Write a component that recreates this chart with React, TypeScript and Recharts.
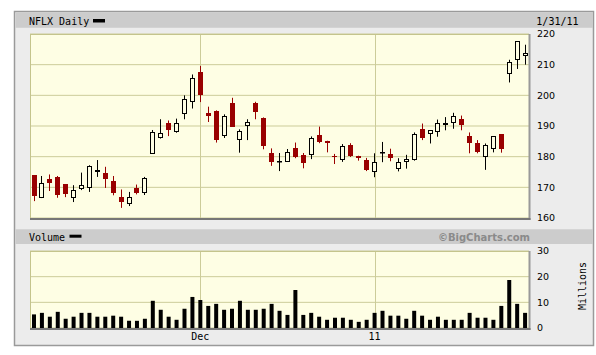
import React from 'react';
import { ComposedChart, Bar, XAxis, YAxis, CartesianGrid } from 'recharts';

const dates = [
  '2010-11-01','2010-11-02','2010-11-03','2010-11-04','2010-11-05','2010-11-08','2010-11-09','2010-11-10','2010-11-11','2010-11-12',
  '2010-11-15','2010-11-16','2010-11-17','2010-11-18','2010-11-19','2010-11-22','2010-11-23','2010-11-24','2010-11-26','2010-11-29',
  '2010-11-30','2010-12-01','2010-12-02','2010-12-03','2010-12-06','2010-12-07','2010-12-08','2010-12-09','2010-12-10','2010-12-13',
  '2010-12-14','2010-12-15','2010-12-16','2010-12-17','2010-12-20','2010-12-21','2010-12-22','2010-12-23','2010-12-27','2010-12-28',
  '2010-12-29','2010-12-30','2010-12-31','2011-01-03','2011-01-04','2011-01-05','2011-01-06','2011-01-07','2011-01-10','2011-01-11',
  '2011-01-12','2011-01-13','2011-01-14','2011-01-18','2011-01-19','2011-01-20','2011-01-21','2011-01-24','2011-01-25','2011-01-26',
  '2011-01-27','2011-01-28','2011-01-31',
];

const opens = [
  173.9,166.6,172.6,173.4,171.0,166.6,169.6,169.9,175.1,174.6,
  172.0,166.7,164.7,169.7,168.3,181.0,186.1,190.9,188.2,194.0,
  197.9,207.7,194.1,194.8,186.8,197.4,185.3,190.1,197.5,192.5,
  181.1,178.3,178.3,182.8,180.6,180.5,187.1,185.2,180.1,178.9,
  183.9,180.1,179.0,175.1,181.2,181.0,176.0,178.4,179.0,189.1,
  187.5,188.1,190.4,191.1,192.4,186.8,184.6,179.8,182.5,187.3,
  207.0,211.4,212.7,
];
const highs = [
  174.0,173.7,174.2,173.7,171.0,170.7,174.8,177.2,178.9,176.7,
  173.7,169.3,168.5,170.9,173.4,188.7,192.2,191.8,192.4,200.0,
  206.8,209.6,196.3,195.1,193.8,199.2,188.9,192.2,197.9,192.8,
  182.7,181.2,182.5,184.6,181.2,186.6,189.8,185.2,180.9,184.1,
  184.4,180.3,179.6,181.1,184.8,182.6,179.5,180.6,187.9,190.8,
  188.6,192.1,192.9,194.3,193.4,187.9,185.4,184.3,186.7,187.3,
  211.6,217.6,216.5,
];
const lows = [
  165.5,166.5,168.8,166.6,166.8,165.2,169.1,168.5,173.4,169.8,
  167.4,163.3,163.9,167.7,167.5,180.9,185.9,186.7,187.8,192.2,
  195.7,197.8,191.3,184.6,186.1,189.7,181.3,185.4,192.2,182.4,
  177.0,175.3,178.3,179.5,176.2,179.2,184.4,181.4,177.6,178.3,
  179.9,178.7,175.3,173.3,178.2,178.5,175.2,176.1,178.7,185.4,
  184.3,186.5,188.6,189.1,188.6,181.1,181.1,175.7,181.4,181.3,
  204.2,208.6,210.0,
];
const closes = [
  167.2,171.5,171.3,167.5,167.9,169.0,170.7,176.8,175.5,172.8,
  168.3,165.2,166.7,168.0,172.9,188.2,187.6,188.7,191.1,198.9,
  205.8,200.1,193.3,185.4,193.4,189.7,188.4,191.2,194.6,183.4,
  178.3,178.6,181.5,179.8,178.0,186.0,184.9,184.3,179.9,183.4,
  180.1,179.5,175.5,178.4,181.5,179.5,178.1,179.3,187.5,186.1,
  188.6,191.1,191.1,193.4,190.2,184.6,181.4,183.9,186.7,182.5,
  210.9,217.6,213.8,
];
const volumes = [
  5.3,5.9,4.4,6.3,3.6,4.4,5.9,5.9,4.4,4.4,
  4.8,4.4,2.8,2.8,3.6,10.6,7.1,4.4,3.2,7.5,
  12.1,10.9,8.6,9.4,7.1,7.5,10.6,7.1,7.1,7.5,
  9.4,6.7,5.1,14.8,5.1,5.9,4.4,3.2,4.0,4.0,
  3.2,2.4,3.2,5.9,6.7,4.8,4.8,3.6,6.7,4.8,
  3.2,4.4,3.2,3.2,3.2,5.9,4.0,4.0,3.2,8.6,
  18.7,9.4,5.9,
];

const monthTickDates = ['2010-12-01', '2011-01-03'];
const monthTickLabels = ['Dec', '11'];
const priceTicks = [160, 170, 180, 190, 200, 210, 220];
const volumeTicks = [0, 10, 20, 30];

const data = dates.map((d, i) => ({
  date: d,
  open: opens[i],
  high: highs[i],
  low: lows[i],
  close: closes[i],
  range: [lows[i], highs[i]],
  volume: volumes[i],
}));

const RED = '#990000';
const GRID = '#cccc99';
const PLOT_BG = '#fefee4';
const MONO = '"DejaVu Sans Mono", monospace';
const SANS = '"DejaVu Sans", sans-serif';

const Candle = (props: any) => {
  const { x, y, width, height, payload } = props;
  if (x == null || y == null) return null;
  const top = Math.min(y, y + height);
  const bottom = Math.max(y, y + height);
  const { open, high, low, close } = payload;
  const span = high - low || 1;
  const py = (v: number) => top + ((high - v) / span) * (bottom - top);
  const cx = Math.round(x + width / 2) + 0.5;
  const up = close >= open;
  const color = up ? '#000' : RED;
  const bt = Math.round(py(Math.max(open, close)));
  let bb = Math.round(py(Math.min(open, close)));
  if (bb - bt < 1) bb = bt + 1;
  return (
    <g>
      <line x1={cx} x2={cx} y1={top} y2={bottom} stroke={color} strokeWidth={1} />
      {up ? (
        <rect x={cx - 2} y={bt + 0.5} width={4} height={Math.max(bb - bt - 1, 0.5)} fill={PLOT_BG} stroke="#000" strokeWidth={1} />
      ) : (
        <rect x={cx - 2.5} y={bt} width={5} height={bb - bt} fill={RED} />
      )}
    </g>
  );
};

const MonthTick = (props: any) => {
  const { x, y, payload } = props;
  const idx = monthTickDates.indexOf(payload.value);
  if (idx < 0) return <g />;
  return (
    <text x={x} y={y} dy="0.35em" textAnchor="middle" fontFamily={MONO} fontSize={10} fill="#000">
      {monthTickLabels[idx]}
    </text>
  );
};

const monthLines = (props: any) => {
  try {
    const xAxis = props && props.xAxis;
    const s = xAxis && xAxis.scale;
    if (!s) return [];
    const bw = typeof s.bandwidth === 'function' ? s.bandwidth() : 0;
    const out: number[] = [];
    monthTickDates.forEach((d) => {
      let v: any;
      if (typeof s === 'function') v = s(d);
      else if (typeof s.map === 'function') v = s.map(d);
      else if (typeof s.apply === 'function') v = s.apply(d);
      if (typeof v === 'number' && isFinite(v)) out.push(Math.round(v + bw / 2) + 0.5);
    });
    return out;
  } catch (e) {
    return [];
  }
};

const tickStyle = { fontSize: 9.5, fill: '#000', fontFamily: SANS };

export default function App() {
  return (
    <div style={{ position: 'absolute', left: 0, top: 0, width: 596, height: 355, background: '#fff' }}>
      <svg width={596} height={355} style={{ position: 'absolute', left: 0, top: 0 }}>
        <rect x={14.5} y={11.5} width={579} height={334} fill="#ececec" stroke="#9a9a9a" strokeWidth={1.5} />
        <rect x={15.5} y={12.3} width={577.5} height={15.5} fill="#cccccc" />
        <rect x={15.5} y={229.3} width={577.5} height={14.7} fill="#cccccc" />
        <text x={29} y={25} fontFamily={MONO} fontSize={10} fill="#000">NFLX Daily</text>
        <rect x={93} y={19} width={12} height={3.5} fill="#000" />
        <text x={578.5} y={25} textAnchor="end" fontFamily={MONO} fontSize={10} fill="#000">1/31/11</text>
        <text x={29} y={240.5} fontFamily={MONO} fontSize={10} fill="#000">Volume</text>
        <rect x={69.5} y={234.7} width={12} height={3} fill="#000" />
        <text x={530} y={240.5} textAnchor="end" fontFamily={SANS} fontWeight="bold" fontSize={10} fill="#8a8a8a">©BigCharts.com</text>
        <text x={582} y={286} textAnchor="middle" dominantBaseline="central" transform="rotate(-90 582 286)" fontFamily={MONO} fontSize={10} fill="#000">Millions</text>
      </svg>

      <div style={{ position: 'absolute', left: 0, top: 0 }}>
        <ComposedChart width={596} height={230} data={data} margin={{ top: 34, right: 27, bottom: 12, left: 30 }}>
          <CartesianGrid stroke={GRID} fill={PLOT_BG} verticalCoordinatesGenerator={monthLines} />
          <XAxis dataKey="date" hide />
          <YAxis orientation="right" domain={[160, 220]} ticks={priceTicks} interval={0} width={40} axisLine={false} tickLine={false} tick={tickStyle} allowDataOverflow />
          <Bar dataKey="range" shape={<Candle />} barSize={5} isAnimationActive={false} />
        </ComposedChart>
      </div>

      <div style={{ position: 'absolute', left: 0, top: 230 }}>
        <ComposedChart width={596} height={125} data={data} margin={{ top: 21, right: 27, bottom: 7, left: 30 }}>
          <CartesianGrid stroke={GRID} fill={PLOT_BG} verticalCoordinatesGenerator={monthLines} />
          <XAxis dataKey="date" height={20} interval={0} axisLine={false} tickLine={false} tick={<MonthTick />} />
          <YAxis orientation="right" domain={[0, 30]} ticks={volumeTicks} interval={0} width={40} axisLine={false} tickLine={false} tick={tickStyle} />
          <Bar dataKey="volume" fill="#000" barSize={4} isAnimationActive={false} />
        </ComposedChart>
      </div>

      <svg width={596} height={355} style={{ position: 'absolute', left: 0, top: 0, pointerEvents: 'none' }}>
        <line x1={30.5} x2={30.5} y1={34} y2={219} stroke="#c4c48c" />
        <line x1={30} x2={529} y1={34.5} y2={34.5} stroke="#c4c48c" />
        <line x1={529.5} x2={529.5} y1={34} y2={220} stroke="#999" strokeWidth={2} />
        <line x1={30} x2={530.5} y1={219} y2={219} stroke="#777" strokeWidth={2} />
        <line x1={30.5} x2={30.5} y1={251} y2={329} stroke="#c4c48c" />
        <line x1={30} x2={529} y1={251.5} y2={251.5} stroke="#c4c48c" />
        <line x1={529.5} x2={529.5} y1={251} y2={330} stroke="#999" strokeWidth={2} />
        <line x1={30} x2={530.5} y1={329} y2={329} stroke="#777" strokeWidth={2} />
      </svg>
    </div>
  );
}
